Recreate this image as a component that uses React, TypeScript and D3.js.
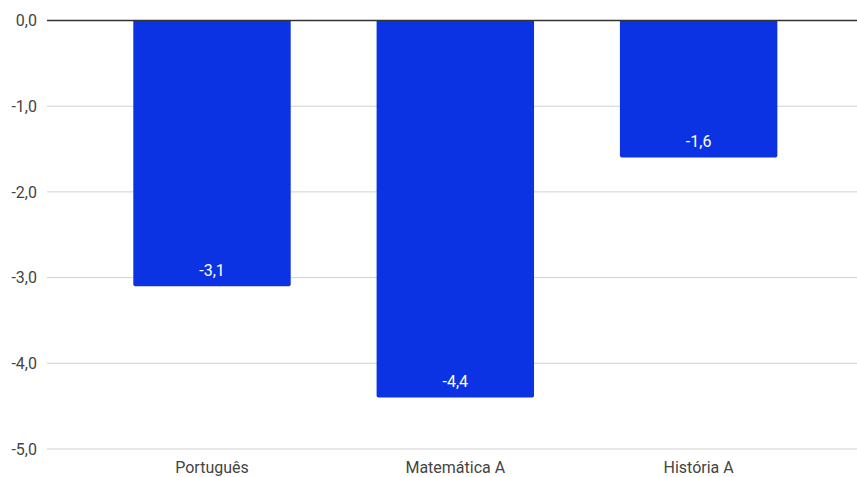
import React from "react";
import * as d3 from "d3";

const categories = ["Português", "Matemática A", "História A"];
const values = [-3.1, -4.4, -1.6];
const yTicks = [0, -1, -2, -3, -4, -5];

const W = 857;
const H = 477;
const FONT = "Roboto, 'Noto Sans', sans-serif";

export default function App() {
  const x = d3
    .scaleBand<string>()
    .domain(categories)
    .range([47, 857])
    .paddingInner(0.353)
    .paddingOuter(0.341)
    .align(0.52);
  const y = d3.scaleLinear().domain([-5, 0]).range([449, 20.5]);
  const fmt = (v: number) => d3.format(".1f")(v).replace(".", ",").replace("−", "-");
  const r = 2;

  return (
    <svg width={W} height={H} style={{ position: "absolute", left: 0, top: 0, background: "#fff" }}>
      {yTicks.map((t) => (
        <g key={t}>
          {t !== 0 && (
            <line x1={47} x2={W} y1={y(t)} y2={y(t)} stroke="#d0d0d0" strokeWidth={1} />
          )}
          <text
            x={37}
            y={y(t)}
            dy="0.35em"
            textAnchor="end"
            fontFamily={FONT}
            fontSize={16}
            fill="#444"
          >
            {fmt(t)}
          </text>
        </g>
      ))}
      {categories.map((c, i) => {
        const x0 = x(c)!;
        const w = x.bandwidth();
        const y0 = y(0);
        const y1 = y(values[i]);
        const path = `M${x0},${y0} H${x0 + w} V${y1 - r} Q${x0 + w},${y1} ${x0 + w - r},${y1} H${x0 + r} Q${x0},${y1} ${x0},${y1 - r} Z`;
        return (
          <g key={c}>
            <path d={path} fill="#0c33e3" />
            <text
              x={x0 + w / 2}
              y={y1 - 16}
              dy="0.35em"
              textAnchor="middle"
              fontFamily={FONT}
              fontSize={16}
              fill="#fff"
            >
              {fmt(values[i])}
            </text>
            <text
              x={x0 + w / 2}
              y={467}
              dy="0.35em"
              textAnchor="middle"
              fontFamily={FONT}
              fontSize={16}
              fill="#444"
            >
              {c}
            </text>
          </g>
        );
      })}
      <line x1={47} x2={W} y1={y(0)} y2={y(0)} stroke="#333" strokeWidth={1.3} />
    </svg>
  );
}
